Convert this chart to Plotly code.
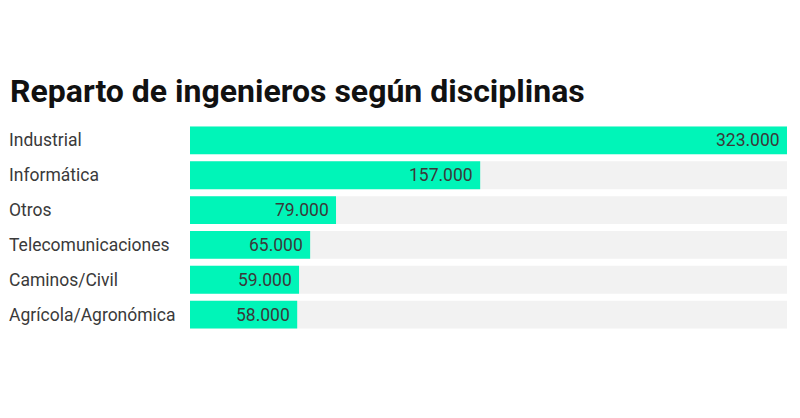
import plotly.graph_objects as go

# datos (orden de arriba a abajo)
disciplinas = ["Industrial", "Informática", "Otros", "Telecomunicaciones",
               "Caminos/Civil", "Agrícola/Agronómica"]
ingenieros = [323000, 157000, 79000, 65000, 59000, 58000]
etiquetas = ["323.000", "157.000", "79.000", "65.000", "59.000", "58.000"]

maximo = max(ingenieros)
VERDE = "#00f5b8"
FONDO = "#f2f2f2"
TEXTO = "#3a3a3a"
ANCHO_PLOT = 597  # px del área de barras

fig = go.Figure()
# pista gris de fondo
fig.add_trace(go.Bar(
    y=disciplinas, x=[maximo] * len(disciplinas), orientation="h",
    marker=dict(color=FONDO, line=dict(width=0)),
    hoverinfo="skip", showlegend=False,
))
fig.add_trace(go.Bar(
    y=disciplinas, x=ingenieros, orientation="h",
    marker=dict(color=VERDE, line=dict(width=0)),
    hovertext=etiquetas, hoverinfo="y+text",
    showlegend=False,
))

# nombres de categoría alineados a la izquierda
for d in disciplinas:
    fig.add_annotation(
        x=-183 / ANCHO_PLOT, xref="paper", y=d, yref="y", text=d,
        showarrow=False, xanchor="left", yanchor="middle",
        font=dict(family="Roboto", size=17.5, color=TEXTO),
    )
# valores dentro del final de cada barra
for d, v, t in zip(disciplinas, ingenieros, etiquetas):
    fig.add_annotation(
        x=v, xref="x", y=d, yref="y", text=t, showarrow=False,
        xanchor="right", yanchor="middle", xshift=-5,
        font=dict(family="Roboto", size=17.5, color=TEXTO),
    )

fig.update_layout(
    width=800, height=418,
    margin=dict(l=190, r=13, t=122.5, b=85.5, pad=0),
    barmode="overlay", bargap=0.2,
    plot_bgcolor="white", paper_bgcolor="white",
    font=dict(family="Roboto", color=TEXTO),
    title=dict(
        text="<b>Reparto de ingenieros según disciplinas</b>",
        x=10 / 800, xanchor="left", xref="container",
        y=1 - 91 / 418, yanchor="middle", yref="container",
        font=dict(family="Roboto", size=32, color="#111111"),
    ),
    xaxis=dict(range=[0, maximo], visible=False, fixedrange=True),
    yaxis=dict(autorange="reversed", showticklabels=False, showgrid=False,
               zeroline=False, fixedrange=True),
)

fig.write_html("out.html", config={"displayModeBar": False},
               post_script="document.body.style.margin='0';")
